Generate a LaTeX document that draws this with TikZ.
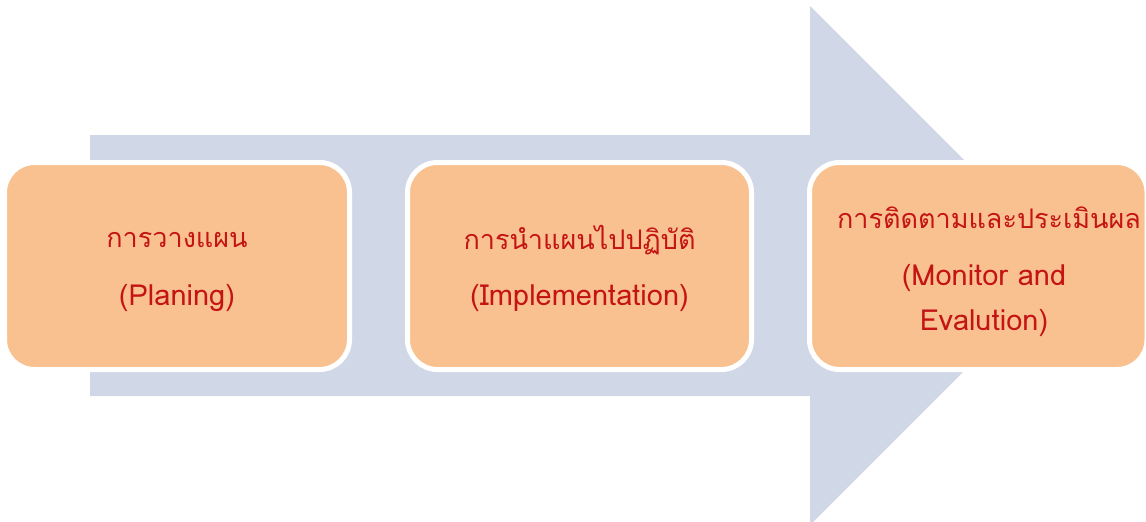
\documentclass[tikz,border=0pt]{standalone}
\usepackage{fontspec}
\newfontfamily\thaifont[Script=Thai]{Loma}
\definecolor{arrowblue}{RGB}{208,216,232}
\definecolor{boxorange}{RGB}{249,193,144}
\definecolor{textred}{RGB}{196,20,20}
\tikzset{
  stepbox/.style={draw=white, line width=5pt, fill=boxorange, rounded corners=30pt, inner sep=0pt},
  steptext/.style={text=textred, font=\thaifont\fontsize{27}{30}\selectfont, inner sep=0pt, align=center},
  steplatin/.style={steptext, font=\thaifont\fontsize{29}{45}\selectfont}
}
\begin{document}
\begin{tikzpicture}[x=1pt,y=-1pt]
% \clip (0,0) rectangle (1146,522);
\useasboundingbox (0,0) rectangle (1146,522);

% Drawing the big arrow behind the boxes
\fill [arrowblue] (90,135) -- (810,135) -- (810,6) -- (1069.5,265.5) -- (810,525) -- (810,396) -- (90,396) -- cycle;%

% Drawing box plan
\node [stepbox, minimum width=345pt, minimum height=207pt] (plan) at (177,266) {};%
\node [steptext] (plantha) at (177,240) {การวางแผน};%
\node [steplatin] (planeng) at (177,298) {(Planing)};%

% Drawing box impl
\node [stepbox, minimum width=344pt, minimum height=207pt] (impl) at (579.5,266) {};%
\node [steptext] (impltha) at (579.5,240) {การนำแผนไปปฏิบัติ};%
\node [steplatin] (impleng) at (579.5,298) {(Implementation)};%

% Drawing box monitor
\node [stepbox, minimum width=337.5pt, minimum height=207pt] (monitor) at (978.25,266) {};%
\node [steptext] (montha) at (989,218) {การติดตามและประเมินผล};%
\node [steplatin] (moneng) at (984,300) {(Monitor and\\ Evalution)};%
\end{tikzpicture}
\end{document}
